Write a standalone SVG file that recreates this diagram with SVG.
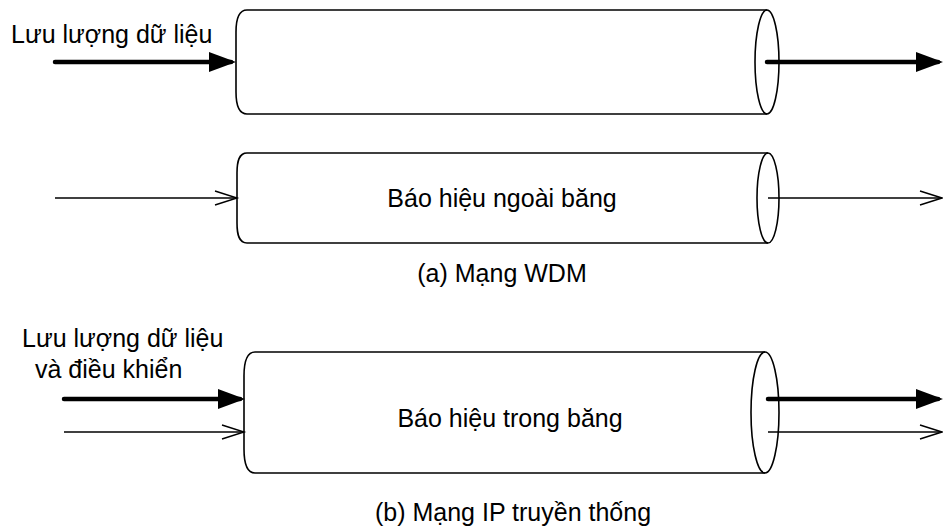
<svg xmlns="http://www.w3.org/2000/svg" width="943" height="531" viewBox="0 0 943 531">
<style>
.cyl{fill:#fff;stroke:#000;stroke-width:1.6}
.end{fill:none;stroke:#000;stroke-width:1.6}
.lbl{font-family:"Liberation Sans",Arial,sans-serif;font-size:25px;fill:#000}
.thick{stroke:#000;stroke-width:4.5;stroke-linecap:round;fill:none;marker-end:url(#thickHead)}
.thin{stroke:#000;stroke-width:1.4;fill:none;marker-end:url(#openHead)}
</style>
<defs>
<marker id="thickHead" markerUnits="userSpaceOnUse" markerWidth="30" markerHeight="22" refX="22" refY="11" orient="auto" overflow="visible"><path d="M0,1 L27,11 L0,21 z" fill="#000"/></marker>
<marker id="openHead" markerUnits="userSpaceOnUse" markerWidth="24" markerHeight="16" refX="22" refY="8" orient="auto" overflow="visible"><path d="M0,1 L22,8 L0,15" fill="none" stroke="#000" stroke-width="1.4"/></marker>
</defs>
<rect width="943" height="531" fill="#fff"/>
<g id="pipe-wdm-data">
<path class="cyl" d="M767,10 L247,10 C239,10 236,18 236,32 L236,92 C236,106 239,114 247,114 L767,114"/>
<ellipse class="end" cx="767" cy="62" rx="12" ry="52"/>
</g>
<g id="pipe-wdm-signal">
<path class="cyl" d="M768,153 L247,153 C239,153 237,161 237,173 L237,223 C237,235 239,243 247,243 L768,243"/>
<ellipse class="end" cx="768" cy="198" rx="11" ry="45"/>
<text class="lbl" x="502" y="207" text-anchor="middle">Báo hiệu ngoài băng</text>
</g>
<g id="pipe-ip">
<path class="cyl" d="M765,352 L255,352 C247,352 244,362 244,376 L244,449 C244,463 247,473 255,473 L765,473"/>
<ellipse class="end" cx="765" cy="412.5" rx="14" ry="60.5"/>
<text class="lbl" x="510" y="427" text-anchor="middle">Báo hiệu trong băng</text>
</g>
<g id="label-wdm-in">
<text class="lbl" x="11" y="43">Lưu lượng dữ liệu</text>
</g>
<g id="caption-a">
<text class="lbl" x="502" y="282" text-anchor="middle">(a) Mạng WDM</text>
</g>
<g id="label-ip-in">
<text class="lbl" x="22" y="347">Lưu lượng dữ liệu</text>
<text class="lbl" x="35" y="378">và điều khiển</text>
</g>
<g id="caption-b">
<text class="lbl" x="513" y="521" text-anchor="middle">(b) Mạng IP truyền thống</text>
</g>
<g id="connectors">
<line class="thick" x1="55" y1="62" x2="231" y2="62"/>
<line class="thick" x1="767" y1="62" x2="938" y2="62"/>
<line class="thin" x1="55" y1="198" x2="237" y2="198"/>
<line class="thin" x1="768" y1="198" x2="942" y2="198"/>
<line class="thick" x1="64" y1="399" x2="240" y2="399"/>
<line class="thick" x1="768" y1="399" x2="938" y2="399"/>
<line class="thin" x1="64" y1="432" x2="244" y2="432"/>
<line class="thin" x1="768" y1="432" x2="942" y2="432"/>
</g>
</svg>
